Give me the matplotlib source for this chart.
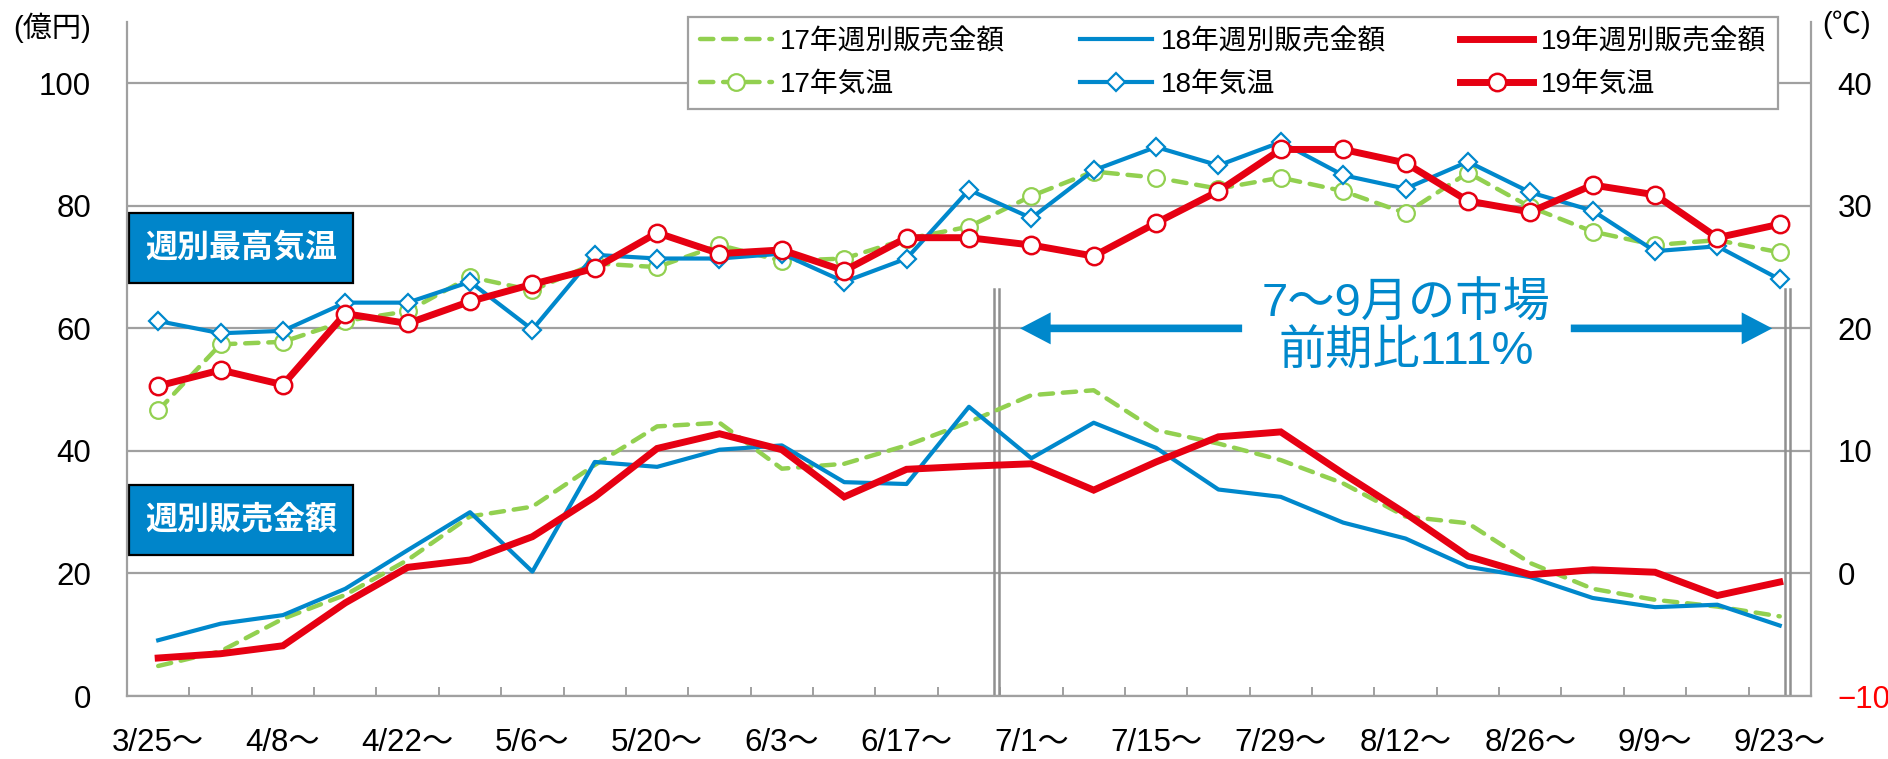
"""
Weekly sales (億円, left axis) vs. weekly max temperature (℃, right axis),
2017-2019, with the Jul-Sep window marked.
"""

import matplotlib
matplotlib.use("Agg")
import matplotlib.pyplot as plt
from matplotlib.patches import Rectangle, FancyArrowPatch

plt.rcParams["font.family"] = ["Liberation Sans", "Noto Sans CJK JP", "DejaVu Sans"]

GREEN = "#92D050"
BLUE = "#0088CC"
RED = "#E60012"
GRAY = "#A0A0A0"

WEEKS = ["3/25～", "4/1～", "4/8～", "4/15～", "4/22～", "4/29～", "5/6～",
         "5/13～", "5/20～", "5/27～", "6/3～", "6/10～", "6/17～", "6/24～",
         "7/1～", "7/8～", "7/15～", "7/22～", "7/29～", "8/5～", "8/12～",
         "8/19～", "8/26～", "9/2～", "9/9～", "9/16～", "9/23～"]

# weekly sales (億円)
SALES_17 = [4.9, 7.3, 12.6, 16.5, 22.2, 29.3, 30.9, 37.7, 44.0, 44.6, 37.1,
            37.9, 40.9, 44.7, 49.1, 49.9, 43.4, 41.2, 38.5, 34.7, 29.3, 28.2,
            21.7, 17.5, 15.7, 14.6, 13.0]
SALES_18 = [9.1, 11.8, 13.2, 17.5, 23.8, 30.0, 20.3, 38.2, 37.4, 40.2, 40.9,
            34.9, 34.6, 47.2, 38.8, 44.6, 40.5, 33.7, 32.5, 28.3, 25.7, 21.1,
            19.4, 16.0, 14.5, 14.9, 11.5]
SALES_19 = [6.2, 6.9, 8.2, 15.2, 21.0, 22.2, 26.0, 32.5, 40.4, 42.8, 40.2,
            32.5, 37.0, 37.5, 37.9, 33.6, 38.2, 42.3, 43.1, 36.3, 29.8, 22.8,
            19.8, 20.6, 20.2, 16.4, 18.6]

# weekly max temperature (℃)
TEMP_17 = [13.3, 18.7, 18.9, 20.6, 21.4, 24.2, 23.1, 25.3, 25.0, 26.8, 25.5,
           25.7, 27.3, 28.3, 30.8, 32.8, 32.3, 31.4, 32.3, 31.2, 29.4, 32.7,
           29.9, 27.9, 26.8, 27.2, 26.2]
TEMP_18 = [20.6, 19.6, 19.8, 22.1, 22.1, 23.8, 19.9, 26.0, 25.7, 25.7, 26.1,
           23.8, 25.7, 31.3, 29.0, 32.9, 34.8, 33.3, 35.2, 32.5, 31.4, 33.6,
           31.1, 29.6, 26.3, 26.7, 24.0]
TEMP_19 = [15.3, 16.6, 15.4, 21.2, 20.4, 22.2, 23.6, 24.9, 27.8, 26.1, 26.4,
           24.7, 27.4, 27.4, 26.8, 25.9, 28.6, 31.2, 34.6, 34.6, 33.5, 30.4,
           29.5, 31.7, 30.9, 27.4, 28.5]

LEFT_TICKS = [0, 20, 40, 60, 80, 100]
RIGHT_TICKS = [-10, 0, 10, 20, 30, 40]

# Jul-Sep window: separators, arrow ends, annotation
SEP_LEFT = [13.40, 13.48]
SEP_RIGHT = [26.09, 26.17]
SEP_TOP = 66.4
ARROW_Y = 60
ARROW_L = (17.38, 13.82)   # (tail, tip)
ARROW_R = (22.65, 25.88)
NOTE = "7～9月の市場\n前期比111%"


def main():
    x = list(range(len(WEEKS)))
    fig = plt.figure(figsize=(18.88, 7.59), dpi=100)
    ax = fig.add_axes([0.06727, 0.0830, 0.8919, 0.8880])
    ax2 = ax.twinx()

    dash = dict(linestyle=(0, (3.0, 2.2)), dash_capstyle="round")

    s17, = ax.plot(x, SALES_17, color=GREEN, lw=3.2, zorder=3, **dash,
                   label="17年週別販売金額")
    s18, = ax.plot(x, SALES_18, color=BLUE, lw=3.0, zorder=3,
                   label="18年週別販売金額")
    s19, = ax.plot(x, SALES_19, color=RED, lw=5.0, zorder=3,
                   solid_joinstyle="miter", label="19年週別販売金額")

    t17, = ax2.plot(x, TEMP_17, color=GREEN, lw=3.2, marker="o", ms=12,
                    mfc="white", mec=GREEN, mew=1.6, **dash, label="17年気温")
    t18, = ax2.plot(x, TEMP_18, color=BLUE, lw=3.0, marker="D", ms=9.5,
                    mfc="white", mec=BLUE, mew=1.6, label="18年気温")
    t19, = ax2.plot(x, TEMP_19, color=RED, lw=5.0, marker="o", ms=12.5,
                    mfc="white", mec=RED, mew=1.8, label="19年気温")

    # axes / scales
    ax.set_xlim(-0.5, len(WEEKS) - 0.5)
    ax.set_ylim(0, 110)
    ax2.set_ylim(-10, 45)
    ax.set_yticks(LEFT_TICKS)
    ax2.set_yticks(RIGHT_TICKS)
    ax.set_xticks(x[::2])
    ax.set_xticklabels(WEEKS[::2])
    ax.set_xticks([i + 0.5 for i in x[:-1]], minor=True)

    ax.grid(axis="y", color=GRAY, lw=1.6)
    ax.set_axisbelow(True)

    for a in (ax, ax2):
        a.spines["top"].set_visible(False)
        for sp in a.spines.values():
            sp.set_color(GRAY)
            sp.set_linewidth(1.6)
    ax.spines["right"].set_visible(False)
    ax2.spines["left"].set_visible(False)
    ax2.spines["bottom"].set_visible(False)

    ax.tick_params(axis="y", length=0, pad=26, labelsize=22.5)
    ax2.tick_params(axis="y", length=0, pad=19, labelsize=22.5)
    ax.tick_params(axis="x", which="major", length=0, pad=23, labelsize=22.5)
    ax.tick_params(axis="x", which="minor", direction="in", length=6.5,
                   width=1.4, color=GRAY)
    ax2.get_yticklabels()[0].set_color("red")

    # Jul-Sep window
    for xs in SEP_LEFT + SEP_RIGHT:
        ax.plot([xs, xs], [0, SEP_TOP], color="#909090", lw=1.8, zorder=1.5)
    ax.add_patch(Rectangle((ARROW_L[0], 50), ARROW_R[0] - ARROW_L[0], 19,
                           facecolor="white", edgecolor="none", zorder=1))
    for tail, tip in (ARROW_L, ARROW_R):
        ax.add_patch(FancyArrowPatch(
            (tail, ARROW_Y), (tip, ARROW_Y),
            arrowstyle="simple,head_length=2.2,head_width=2.3,tail_width=0.55",
            mutation_scale=10, color=BLUE, lw=0, shrinkA=0, shrinkB=0,
            zorder=2))
    ax.text((ARROW_L[0] + ARROW_R[0]) / 2, ARROW_Y, NOTE, ha="center",
            va="center", fontsize=34, color=BLUE, linespacing=1.12, zorder=2)

    # label boxes
    for y0, txt in ((0.6128, "週別最高気温"), (0.2092, "週別販売金額")):
        ax.add_patch(Rectangle((0.0012, y0), 0.133, 0.1039,
                               transform=ax.transAxes, facecolor="#0085CA",
                               edgecolor="black", lw=1.6, zorder=2))
        ax.text(0.0012 + 0.133 / 2, y0 + 0.1039 / 2, txt,
                transform=ax.transAxes, ha="center", va="center",
                fontsize=23, fontweight="bold", color="white", zorder=3)

    fig.text(0.0275, 0.964, "(億円)", ha="center", va="center", fontsize=21)
    fig.text(0.9778, 0.967, "(℃)", ha="center", va="center", fontsize=21)

    handles = [s17, t17, s18, t18, s19, t19]
    leg = ax2.legend(handles, [h.get_label() for h in handles], ncol=3,
                     loc="upper left", mode="expand",
                     bbox_to_anchor=(0.3331, 0.865, 0.6473, 0.1424),
                     borderaxespad=0, fontsize=20, handlelength=2.6,
                     handletextpad=0.3, labelspacing=0.6, borderpad=0.42,
                     fancybox=False, framealpha=1, edgecolor=GRAY)
    leg.get_frame().set_linewidth(1.6)
    leg.set_zorder(10)

    fig.savefig("out.png", dpi=100)
    plt.close(fig)


if __name__ == "__main__":
    main()
